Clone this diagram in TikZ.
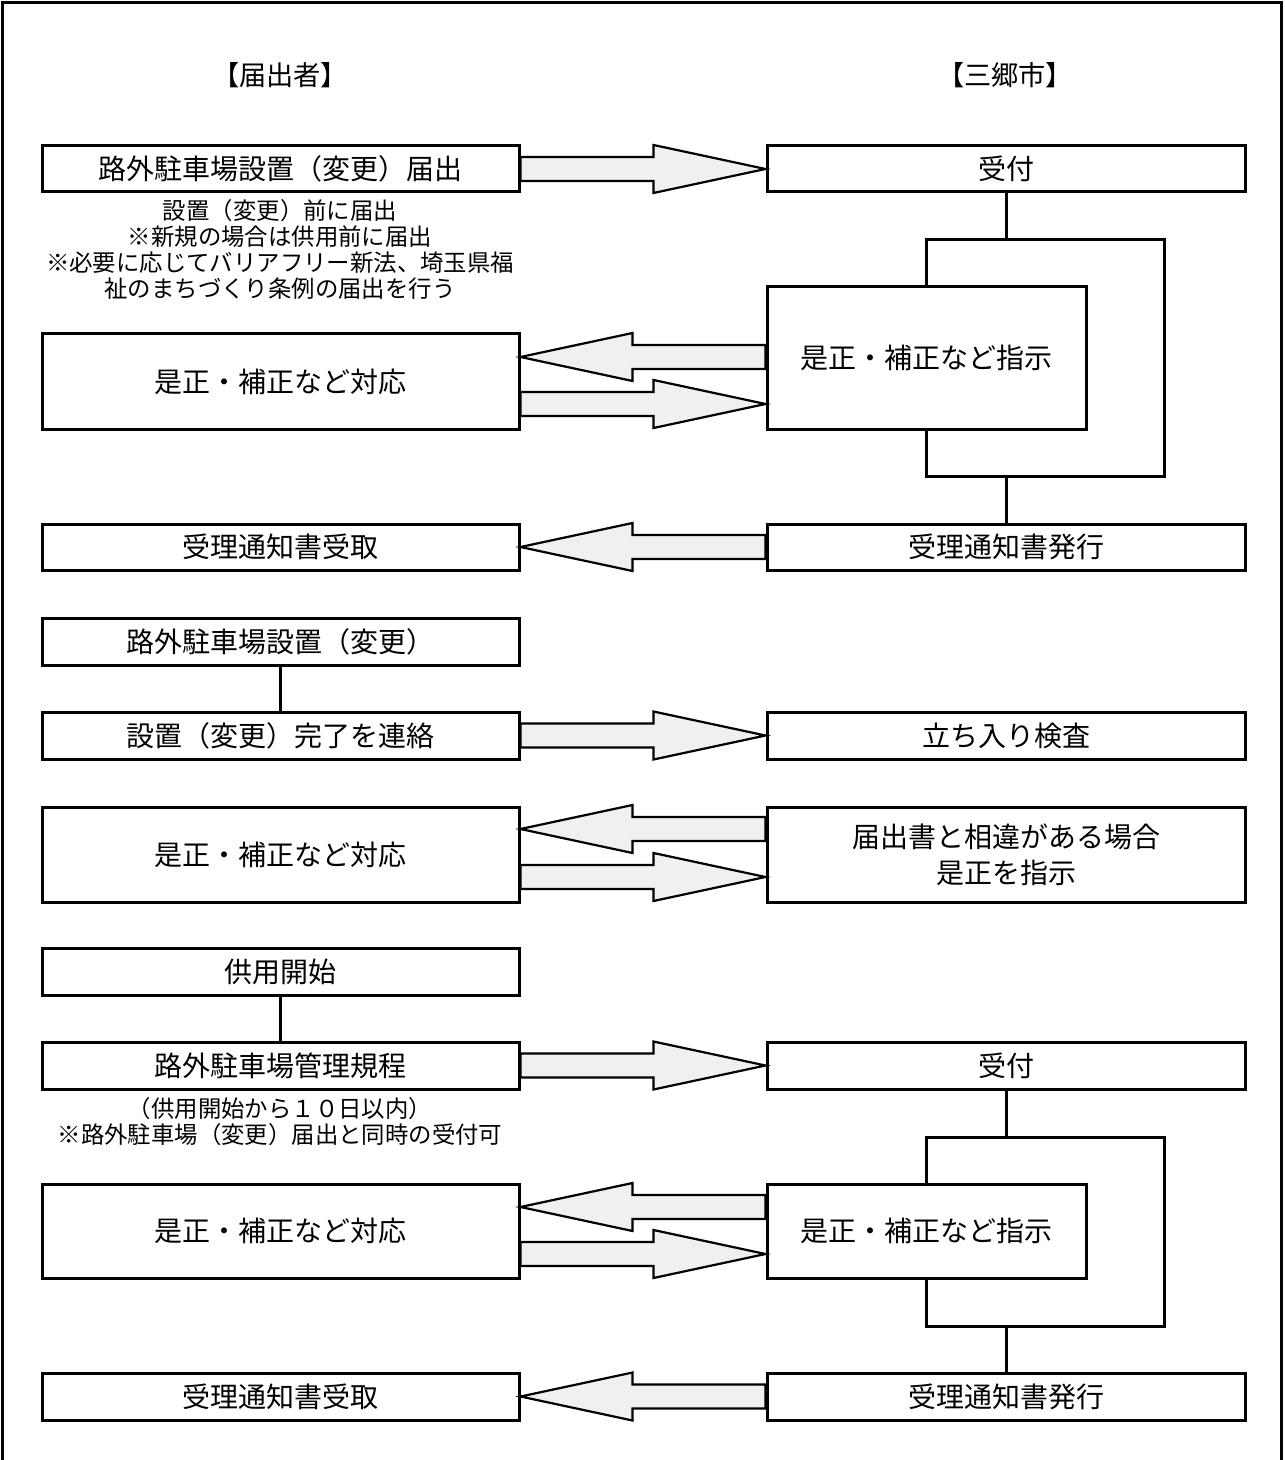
\documentclass[tikz,border=0pt]{standalone}
\usepackage{fontspec}
\setmainfont{Noto Sans CJK JP}
\usetikzlibrary{calc}
\tikzset{
 box/.style={draw, line width=1.5pt, fill=white, inner sep=0pt, align=center, font=\fontsize{14pt}{18pt}\selectfont},
 lbox/.style={box, minimum width=238.5pt},
 rbox/.style={box, minimum width=239pt},
 ibox/.style={box, minimum width=159.5pt},
 loopbox/.style={draw, line width=1.5pt, inner sep=0pt, minimum width=119pt},
 fat/.style={draw, line width=1.1pt, fill=black!6, line join=miter},
 conn/.style={line width=1.5pt},
 note/.style={font=\fontsize{11.7pt}{13pt}\selectfont, align=center},
 head/.style={font=\fontsize{13.6pt}{16pt}\selectfont},
}
\newcommand{\rarrow}[2]{\draw[fat] let \p1=(#1), \p2=(#2) in (\x1,\y1+6pt) -- (\x2-56pt,\y1+6pt) -- (\x2-56pt,\y1+12pt) -- (\x2,\y1) -- (\x2-56pt,\y1-12pt) -- (\x2-56pt,\y1-6pt) -- (\x1,\y1-6pt) -- cycle;}
\newcommand{\larrow}[2]{\draw[fat] let \p1=(#1), \p2=(#2) in (\x1,\y1+6pt) -- (\x2+56pt,\y1+6pt) -- (\x2+56pt,\y1+12pt) -- (\x2,\y1) -- (\x2+56pt,\y1-12pt) -- (\x2+56pt,\y1-6pt) -- (\x1,\y1-6pt) -- cycle;}
\begin{document}
\begin{tikzpicture}[x=0.5pt,y=-0.5pt]
\useasboundingbox (0,0) rectangle (1284,1460);
\draw[line width=1.9pt] (2.5,1462) -- (2.5,2.5) -- (1281.5,2.5) -- (1281.5,1462);
% headers
\node[head] (h1) at (280,75) {【届出者】};
\node[head] (h2) at (1005,75) {【三郷市】};
% loops
\node[loopbox, minimum height=118pt] (loop1) at (1045,358) {};
\node[loopbox, minimum height=94.5pt] (loop3) at (1045,1231.5) {};
% left column
\node[lbox, minimum height=23pt] (L1) at (280.5,169) {路外駐車場設置（変更）届出};
\node[lbox, minimum height=47.5pt] (L2) at (280.5,381.5) {是正・補正など対応};
\node[lbox, minimum height=23pt] (L3) at (280.5,547) {受理通知書受取};
\node[lbox, minimum height=23.5pt] (L4) at (280.5,641.5) {路外駐車場設置（変更）};
\node[lbox, minimum height=23.5pt] (L5) at (280.5,735.5) {設置（変更）完了を連絡};
\node[lbox, minimum height=47.5pt] (L6) at (280.5,854.5) {是正・補正など対応};
\node[lbox, minimum height=23.5pt] (L7) at (280.5,971.5) {供用開始};
\node[lbox, minimum height=23.5pt] (L8) at (280.5,1065.5) {路外駐車場管理規程};
\node[lbox, minimum height=47pt] (L9) at (280.5,1231) {是正・補正など対応};
\node[lbox, minimum height=23.5pt] (L10) at (280.5,1396.5) {受理通知書受取};
% right column
\node[rbox, minimum height=23pt] (R1) at (1006,169) {受付};
\node[ibox, minimum height=71pt] (R2) at (926.5,358) {是正・補正など指示};
\node[rbox, minimum height=23pt] (R3) at (1006,547) {受理通知書発行};
\node[rbox, minimum height=23.5pt] (R5) at (1006,735.5) {立ち入り検査};
\node[rbox, minimum height=47.5pt] (R6) at (1006,854.5) {届出書と相違がある場合\\是正を指示};
\node[rbox, minimum height=23.5pt] (R8) at (1006,1065.5) {受付};
\node[ibox, minimum height=47pt] (R9) at (926.5,1231) {是正・補正など指示};
\node[rbox, minimum height=23.5pt] (R10) at (1006,1396.5) {受理通知書発行};
% notes
\node[note] (n1) at (280,249) {設置（変更）前に届出\\※新規の場合は供用前に届出\\※必要に応じてバリアフリー新法、埼玉県福\\祉のまちづくり条例の届出を行う};
\node[note] (n2) at (280,1122) {（供用開始から１０日以内）\\※路外駐車場（変更）届出と同時の受付可};
% connectors
\draw[conn] (R1.south) -- (R1.south |- loop1.north);
\draw[conn] (R3.north |- loop1.south) -- (R3.north);
\draw[conn] (R8.south) -- (R8.south |- loop3.north);
\draw[conn] (R10.north |- loop3.south) -- (R10.north);
\draw[conn] (L4.south) -- (L5.north);
\draw[conn] (L7.south) -- (L8.north);
% fat arrows
\rarrow{L1.east}{R1.west}
\larrow{R2.west |- 0,357}{L2.east}
\rarrow{L2.east |- 0,404}{R2.west}
\larrow{R3.west}{L3.east}
\rarrow{L5.east}{R5.west}
\larrow{R6.west |- 0,829}{L6.east}
\rarrow{L6.east |- 0,877}{R6.west}
\rarrow{L8.east}{R8.west}
\larrow{R9.west |- 0,1207}{L9.east}
\rarrow{L9.east |- 0,1254}{R9.west}
\larrow{R10.west}{L10.east}
\end{tikzpicture}
\end{document}
